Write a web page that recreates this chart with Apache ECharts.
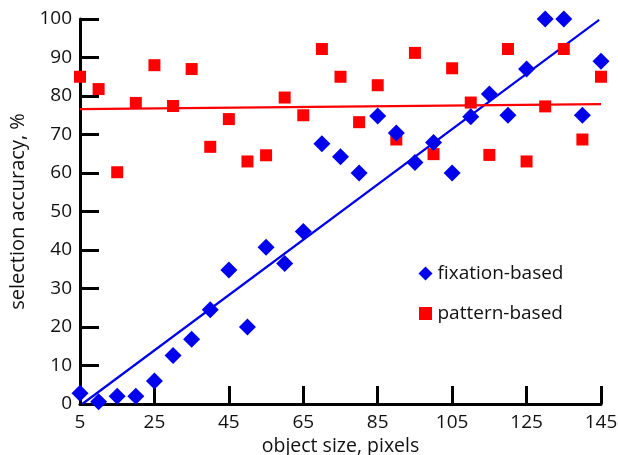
<!DOCTYPE html>
<html>
<head>
<meta charset="utf-8">
<script src="https://cdn.jsdelivr.net/npm/echarts@6/dist/echarts.min.js"></script>
<style>
  html, body { margin: 0; padding: 0; background: #fff; }
  #main { width: 618px; height: 455px; }
</style>
</head>
<body>
<div id="main"></div>
<script>
// object sizes (pixels)
const sizes = [5, 10, 15, 20, 25, 30, 35, 40, 45, 50, 55, 60, 65, 70, 75,
               80, 85, 90, 95, 100, 105, 110, 115, 120, 125, 130, 135, 140, 145];
// selection accuracy, %
const fixation = [2.8, 0.6, 2, 2, 6, 12.6, 16.8, 24.5, 34.8, 20, 40.7, 36.5, 44.8, 67.6, 64.2,
                  60, 74.8, 70.4, 62.7, 67.9, 60, 74.6, 80.5, 75, 87, 100, 100, 75, 89];
const pattern = [85, 81.8, 60.2, 78.2, 88, 77.4, 87, 66.8, 74, 63, 64.6, 79.6, 75, 92.2, 85,
                 73.2, 82.8, 68.7, 91.2, 64.9, 87.2, 78.3, 64.7, 92.2, 63, 77.3, 92.2, 68.7, 85];
// fitted lines, end points
const fixationFit = [[5.6, 0], [144.5, 99.8]];
const patternFit = [[5, 76.6], [145, 77.9]];
const xTicks = [5, 25, 45, 65, 85, 105, 125, 145];

const font = '"Open Sans", "DejaVu Sans", sans-serif';
const pairs = (xs, ys) => xs.map((x, i) => [x, ys[i]]);

let myChart = echarts.init(document.getElementById('main'));
myChart.setOption({
    animation: false,
    textStyle: { fontFamily: font, color: '#111' },
    grid: { left: 80, right: 17, top: 19, bottom: 51, outerBoundsMode: 'none', containLabel: false },
    legend: {
        left: 413, top: 259, orient: 'vertical',
        itemWidth: 14, itemHeight: 14, itemGap: 21,
        textStyle: { fontSize: 19, color: '#111', fontFamily: font },
        data: [
            { name: 'fixation-based', icon: 'diamond' },
            { name: 'pattern-based', icon: 'rect', itemStyle: { borderColor: '#fff', borderWidth: 1 } }
        ]
    },
    xAxis: {
        type: 'value', min: xTicks[0], max: xTicks[xTicks.length - 1], interval: 20,
        name: 'object size, pixels', nameLocation: 'middle', nameGap: 23,
        nameTextStyle: { fontSize: 19.5, color: '#111' },
        axisLine: { lineStyle: { color: '#000', width: 3 } },
        axisTick: { inside: true, length: 18, lineStyle: { width: 3, color: '#000' } },
        axisLabel: { fontSize: 19, color: '#111', margin: 9 },
        splitLine: { show: false }
    },
    yAxis: {
        type: 'value', min: 0, max: 100, interval: 10,
        name: 'selection accuracy, %', nameLocation: 'middle', nameGap: 51,
        nameTextStyle: { fontSize: 20, color: '#111' },
        axisLine: { show: true, lineStyle: { color: '#000', width: 3 } },
        axisTick: { show: true, inside: true, length: 19, lineStyle: { width: 3, color: '#000' } },
        axisLabel: { fontSize: 19, color: '#111', margin: 8 },
        splitLine: { show: false }
    },
    series: [
        {
            name: 'fixation-fit', type: 'line', data: fixationFit,
            symbol: 'none', lineStyle: { color: '#0000ee', width: 2.2 }, z: 1
        },
        {
            name: 'pattern-fit', type: 'line', data: patternFit,
            symbol: 'none', lineStyle: { color: '#ff0000', width: 2.2 }, z: 1
        },
        {
            name: 'fixation-based', type: 'scatter', data: pairs(sizes, fixation),
            symbol: 'diamond', symbolSize: 17,
            itemStyle: { color: '#0000ee', opacity: 1 }, z: 3
        },
        {
            name: 'pattern-based', type: 'scatter', data: pairs(sizes, pattern),
            symbol: 'rect', symbolSize: 12,
            itemStyle: { color: '#ff0000', opacity: 1 }, z: 2
        }
    ]
});
</script>
</body>
</html>
